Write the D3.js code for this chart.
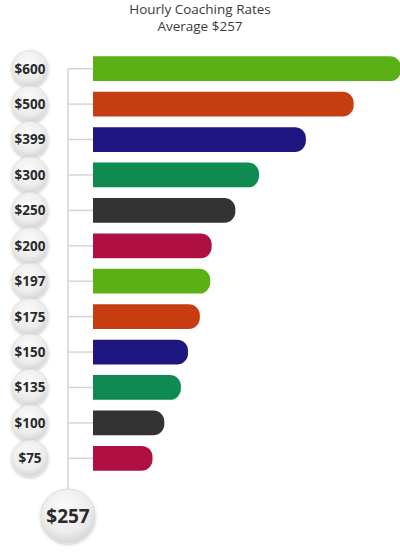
<!DOCTYPE html>
<html>
<head>
<meta charset="utf-8">
<script src="https://cdn.jsdelivr.net/npm/d3@7"></script>
<style>
  body { margin: 0; background: #fff; }
  svg { display: block; font-family: "Open Sans", sans-serif; }
</style>
</head>
<body>
<div id="chart"></div>
<script>
// chart data
var rates = [600, 500, 399, 300, 250, 200, 197, 175, 150, 135, 100, 75];
var labels = ["$600", "$500", "$399", "$300", "$250", "$200", "$197", "$175", "$150", "$135", "$100", "$75"];
var barColors = ["#5bb015", "#c73d12", "#1f1682", "#0f8b52", "#333333", "#b00f42"];
var average = 257;
var titleLines = ["Hourly Coaching Rates", "Average $257"];

function init() {
    var w = 400, h = 554;

    var svg = d3.select("#chart")
        .append("svg")
        .attr("width", w)
        .attr("height", h);

    var defs = svg.append("defs");

    // soft grey "button" look for the value circles
    var grad = defs.append("radialGradient")
        .attr("id", "disc")
        .attr("cx", "45%").attr("cy", "35%").attr("r", "65%");
    grad.append("stop").attr("offset", "0%").attr("stop-color", "#fbfbfb");
    grad.append("stop").attr("offset", "70%").attr("stop-color", "#ececec");
    grad.append("stop").attr("offset", "100%").attr("stop-color", "#d6d6d6");

    var shadow = defs.append("filter").attr("id", "shadow")
        .attr("x", "-30%").attr("y", "-30%").attr("width", "160%").attr("height", "160%");
    shadow.append("feDropShadow")
        .attr("dx", 0).attr("dy", 1).attr("stdDeviation", 1.5)
        .attr("flood-color", "#000").attr("flood-opacity", 0.25);

    // scales
    var yScale = d3.scaleBand()
        .domain(labels)
        .range([51, 476])
        .paddingInner(0.3)
        .paddingOuter(0.15);

    var barLeft = 93;
    var xScale = d3.scaleLinear()
        .domain([0, 600])
        .range([barLeft + 24, 401]);

    var lineX = 68, circleX = 30;

    // title
    svg.append("g").selectAll("text")
        .data(titleLines)
        .enter()
        .append("text")
        .attr("x", 200)
        .attr("y", (d, i) => 14 + i * 17)
        .attr("text-anchor", "middle")
        .style("font-size", "13.5px")
        .style("fill", "#3a3a3a")
        .text(d => d);

    var mid = d => yScale(d) + yScale.bandwidth() / 2;

    // connector lines
    svg.append("line")
        .attr("x1", lineX).attr("x2", lineX)
        .attr("y1", mid(labels[0])).attr("y2", 490)
        .style("stroke", "#d5d5d5").style("stroke-width", 1.5);

    svg.append("g").selectAll("line")
        .data(labels)
        .enter()
        .append("line")
        .attr("x1", lineX).attr("x2", barLeft)
        .attr("y1", d => mid(d)).attr("y2", d => mid(d))
        .style("stroke", "#d5d5d5").style("stroke-width", 1.5);

    // bars: square left side, rounded right end
    var r = 11;
    svg.append("g").selectAll("path")
        .data(rates)
        .enter()
        .append("path")
        .attr("d", (d, i) => {
            var y0 = yScale(labels[i]), bh = yScale.bandwidth(), x1 = xScale(d);
            return "M" + barLeft + "," + y0 +
                "H" + (x1 - r) +
                "A" + r + "," + r + " 0 0 1 " + x1 + "," + (y0 + r) +
                "V" + (y0 + bh - r) +
                "A" + r + "," + r + " 0 0 1 " + (x1 - r) + "," + (y0 + bh) +
                "H" + barLeft + "Z";
        })
        .style("fill", (d, i) => barColors[i % barColors.length]);

    // value circles
    var circles = svg.append("g").selectAll("g")
        .data(labels)
        .enter()
        .append("g")
        .attr("transform", d => `translate(${circleX},${mid(d)})`);

    circles.append("circle")
        .attr("r", 18)
        .attr("fill", "url(#disc)")
        .attr("stroke", "#e2e2e2")
        .attr("filter", "url(#shadow)");

    circles.append("text")
        .attr("text-anchor", "middle")
        .attr("dy", "0.36em")
        .style("font-size", "13.5px")
        .style("font-weight", "bold")
        .style("fill", "#2a2a2a")
        .text(d => d);

    // average circle
    var avg = svg.append("g")
        .attr("transform", `translate(${lineX},516)`);

    avg.append("circle")
        .attr("r", 27)
        .attr("fill", "url(#disc)")
        .attr("stroke", "#dedede")
        .attr("filter", "url(#shadow)");

    avg.append("text")
        .attr("text-anchor", "middle")
        .attr("dy", "0.36em")
        .style("font-size", "19px")
        .style("font-weight", "bold")
        .style("fill", "#2a2a2a")
        .text("$" + average);
}

window.onload = init;
</script>
</body>
</html>
